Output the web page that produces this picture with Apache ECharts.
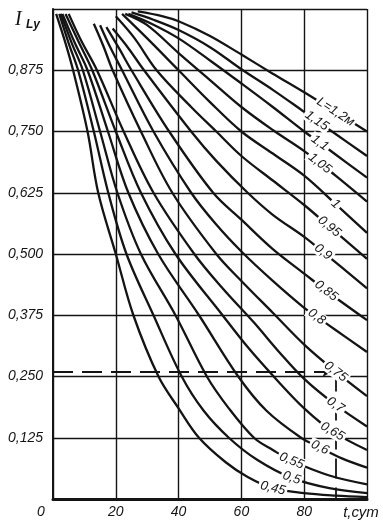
<!DOCTYPE html>
<html>
<head>
<meta charset="utf-8">
<script src="https://cdn.jsdelivr.net/npm/echarts/dist/echarts.min.js"></script>
<style>
html,body{margin:0;padding:0;background:#fff;}
#c{width:383px;height:527px;}
</style>
</head>
<body>
<div id="c"></div>
<script>
// ---- data ----
const L_values = [0.45, 0.5, 0.55, 0.6, 0.65, 0.7, 0.75, 0.8, 0.85, 0.9, 0.95, 1, 1.05, 1.1, 1.15, 1.2];

const c045 = [[1,0.99],[4,0.93],[6.4,0.875],[11,0.75],[14.4,0.625],[20,0.5],[25.6,0.375],[33.6,0.25],[40,0.185],[46.5,0.125],[55,0.075],[62,0.045],[70,0.022],[80,0.012],[90,0.007],[100,0.004]];
const c050 = [[2,0.99],[5,0.93],[8,0.875],[13,0.75],[17.6,0.625],[23.4,0.5],[32,0.375],[41,0.25],[48,0.18],[56,0.125],[65,0.08],[76,0.043],[88,0.022],[100,0.012]];
const c055 = [[2.5,0.99],[6,0.93],[9.5,0.875],[15,0.75],[20.5,0.625],[28,0.5],[39,0.375],[49,0.25],[56,0.185],[64,0.125],[70,0.1],[76,0.078],[88,0.048],[100,0.03]];
const c060 = [[3,0.99],[7,0.93],[11,0.875],[17.5,0.75],[24,0.625],[33.5,0.5],[46.5,0.375],[59,0.25],[68,0.18],[79,0.125],[85,0.105],[92,0.083],[100,0.064]];
const c065 = [[4,0.99],[8,0.935],[12.5,0.875],[20,0.75],[28,0.625],[39,0.5],[54,0.375],[62,0.31],[71,0.245],[80,0.185],[89,0.138],[100,0.1]];
const c070 = [[5,0.99],[9,0.935],[14,0.875],[22.5,0.75],[32,0.625],[45,0.5],[54,0.43],[64,0.36],[72,0.3],[80,0.245],[90,0.192],[100,0.148]];
const c075 = [[13,0.97],[16,0.925],[19,0.875],[28,0.75],[38,0.625],[52,0.5],[60,0.445],[70,0.38],[80,0.315],[90,0.26],[100,0.21]];
const c080 = [[15,0.967],[18,0.925],[22,0.875],[32,0.75],[44,0.625],[52,0.56],[60,0.505],[70,0.445],[80,0.39],[84,0.372],[90,0.345],[100,0.30]];
const c085 = [[17,0.963],[21,0.92],[25,0.875],[37,0.75],[51,0.625],[60,0.57],[70,0.51],[80,0.46],[87,0.425],[100,0.365]];
const c090 = [[19,0.96],[24,0.92],[29,0.875],[44,0.75],[52,0.69],[62,0.625],[70,0.58],[80,0.535],[86,0.504],[100,0.43]];
const c095 = [[20,0.985],[26,0.94],[33,0.875],[44,0.8],[52,0.75],[60,0.70],[70,0.65],[80,0.60],[88,0.556],[100,0.49]];
const c100 = [[22,0.99],[30,0.94],[40,0.875],[50,0.81],[60,0.75],[70,0.705],[80,0.66],[90,0.602],[100,0.543]];
const c105 = [[23,0.99],[30,0.967],[40,0.91],[50,0.855],[60,0.80],[70,0.753],[80,0.71],[85,0.685],[90,0.66],[100,0.607]];
const c110 = [[24,0.99],[32,0.968],[40,0.94],[50,0.895],[60,0.848],[70,0.8],[80,0.75],[85,0.727],[90,0.703],[100,0.656]];
const c115 = [[25,0.993],[32,0.978],[40,0.957],[50,0.922],[60,0.877],[70,0.835],[80,0.79],[84,0.772],[90,0.745],[100,0.70]];
const c120 = [[27,0.995],[35,0.985],[40,0.975],[50,0.945],[60,0.907],[70,0.868],[80,0.83],[90,0.79],[100,0.75]];

// t (days) of the point on each curve where its L label sits
const labelT = [70, 76, 76, 85, 89, 90, 90, 84, 87, 86, 88, 90, 85, 85, 84, 90];

const xTickValues = [0, 20, 40, 60, 80, 100];
const xTickText = ['0', '20', '40', '60', '80', 't,сут'];
const yTickText = ['', '0,125', '0,250', '0,375', '0,500', '0,625', '0,750', '0,875', ''];

// example read-off: dashed line at I = 0.26 to t = 90
const refT = 90;
const refI = 0.26;

// ---- chart ----
const curves = [c045, c050, c055, c060, c065, c070, c075, c080, c085, c090, c095, c100, c105, c110, c115, c120];
const labelRot = [-14, -18, -22, -26, -30, -34, -38, -36, -38, -38, -40, -42, -38, -36, -35, -33];
const INK = '#141414';
const FONT = 'Liberation Sans';

function curveLabel(l) {
  const s = String(l).replace('.', ',');
  return l === 1.2 ? 'L=' + s + 'м' : s;
}

const series = L_values.map((l, i) => {
  const data = curves[i];
  const lp = data.find(p => p[0] === labelT[i]);
  const s = {
    type: 'line',
    data: data,
    smooth: 0.35,
    showSymbol: false,
    silent: true,
    z: 2,
    lineStyle: { color: INK, width: 2.3 },
    markPoint: {
      silent: true,
      symbol: 'circle',
      symbolSize: 0,
      z: 6,
      data: [{
        coord: lp,
        label: {
          show: true,
          position: 'inside',
          formatter: curveLabel(l),
          rotate: labelRot[i],
          fontSize: 13,
          fontStyle: 'italic',
          fontFamily: FONT,
          color: INK,
          backgroundColor: '#fff',
          padding: [0, 2, 0, 2]
        }
      }]
    }
  };
  if (i === 0) {
    s.markLine = {
      silent: true,
      animation: false,
      symbol: ['none', 'none'],
      label: { show: false },
      lineStyle: { color: INK, width: 1.8, type: [20, 9] },
      data: [
        [{ coord: [0, refI], symbol: 'none' }, { coord: [refT - 1, refI], symbol: 'arrow', symbolSize: [8, 10] }],
        [{ coord: [refT, refI], symbol: 'none' }, { coord: [refT, 0], symbol: 'none' }]
      ]
    };
  }
  return s;
});

const chart = echarts.init(document.getElementById('c'), null, { renderer: 'canvas' });
chart.setOption({
  animation: false,
  backgroundColor: '#fff',
  grid: { left: 53, right: 16, top: 9, bottom: 28 },
  xAxis: {
    type: 'value', min: 0, max: 100, interval: 20,
    axisLine: { show: true, lineStyle: { color: INK, width: 3 } },
    axisTick: { show: false },
    splitLine: { show: true, lineStyle: { color: INK, width: 1.4 } },
    axisLabel: {
      margin: 6,
      color: INK, fontSize: 14, fontStyle: 'italic', fontFamily: FONT,
      formatter: function (v) {
        const k = xTickValues.indexOf(v);
        const t = k >= 0 ? xTickText[k] : '';
        if (k === 0) return '{z|' + t + '}';
        if (k === xTickValues.length - 1) return '{e|' + t + '}';
        return t;
      },
      rich: {
        z: { padding: [0, 24, 0, 0], fontSize: 14, fontStyle: 'italic', fontFamily: FONT, color: INK },
        e: { padding: [0, 12, 0, 0], fontSize: 15, fontStyle: 'italic', fontFamily: FONT, color: INK }
      }
    }
  },
  yAxis: {
    type: 'value', min: 0, max: 1, interval: 0.125,
    axisLine: { show: true, lineStyle: { color: INK, width: 2 } },
    axisTick: { show: false },
    splitLine: { show: true, lineStyle: { color: INK, width: 1.4 } },
    axisLabel: {
      margin: 10,
      color: INK, fontSize: 14, fontStyle: 'italic', fontFamily: FONT,
      formatter: function (v, idx) { return yTickText[idx] || ''; }
    }
  },
  graphic: [
    { type: 'text', left: 15, top: 10, style: { text: 'I', font: 'italic 20px "Liberation Serif"', fill: INK } },
    { type: 'text', left: 26, top: 19, style: { text: 'Ly', font: 'italic bold 12px "Liberation Sans"', fill: INK } }
  ],
  series: series
});
</script>
</body>
</html>
